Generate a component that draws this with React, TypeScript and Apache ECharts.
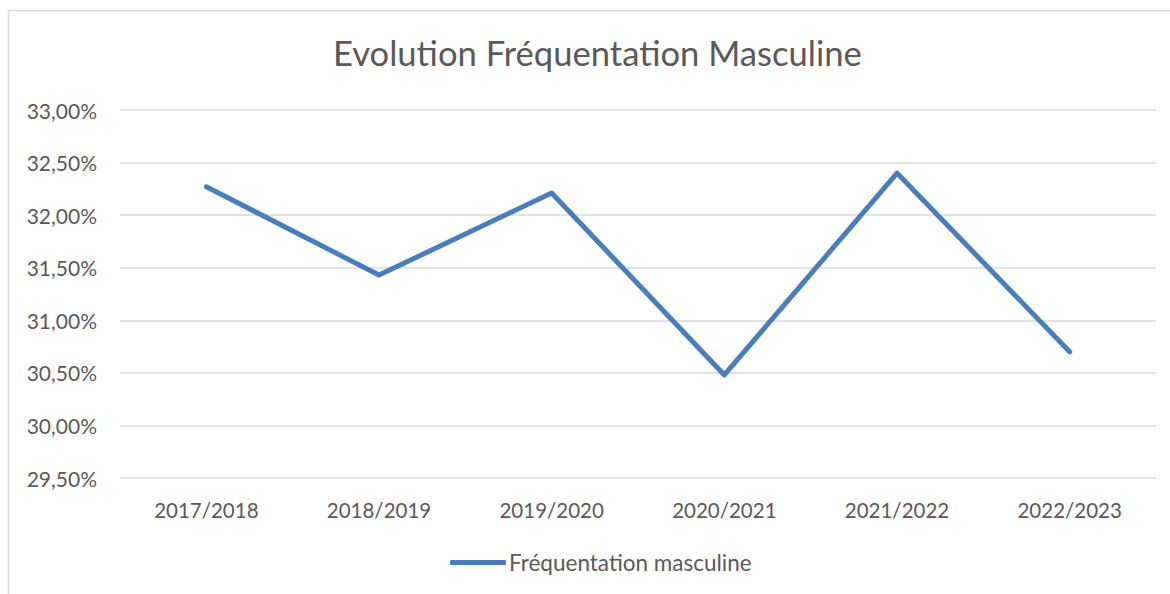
import React, { useEffect, useRef } from "react";
import * as echarts from "echarts";

const categories = ["2017/2018", "2018/2019", "2019/2020", "2020/2021", "2021/2022", "2022/2023"];
const values = [32.27, 31.43, 32.21, 30.48, 32.4, 30.7];
const seriesName = "Fréquentation masculine";
const titleText = "Evolution Fréquentation Masculine";

const FONT = "Lato, 'Open Sans', sans-serif";

export default function App() {
  const ref = useRef<HTMLDivElement>(null);
  useEffect(() => {
    if (!ref.current) return;
    const chart = echarts.init(ref.current, null, { renderer: "svg" });
    chart.setOption({
      animation: false,
      backgroundColor: "#ffffff",
      textStyle: { fontFamily: FONT },
      title: {
        text: titleText,
        left: 328,
        top: 30,
        textStyle: { fontSize: 34.6, fontWeight: "normal", color: "#595959", fontFamily: FONT },
      },
      graphic: [
        {
          type: "rect",
          shape: { x: 8.5, y: 10.5, width: 1200, height: 700 },
          style: { fill: "none", stroke: "#d9d9d9", lineWidth: 1.5 },
          silent: true,
        },
      ],
      grid: { left: 120, right: 14, top: 110, bottom: 116, containLabel: false },
      xAxis: {
        type: "category",
        data: categories,
        boundaryGap: true,
        axisLine: { show: false },
        axisTick: { show: false },
        axisLabel: { fontSize: 20.5, color: "#595959", margin: 21, fontFamily: FONT },
      },
      yAxis: {
        type: "value",
        min: 29.5,
        max: 33,
        interval: 0.5,
        axisLine: { show: false },
        axisTick: { show: false },
        splitLine: { lineStyle: { color: "#d9d9d9", width: 1.5 } },
        axisLabel: {
          fontSize: 21,
          color: "#595959",
          margin: 23,
          fontFamily: FONT,
          formatter: (v: number) => v.toFixed(2).replace(".", ",") + "%",
        },
      },
      legend: {
        data: [{ name: seriesName, icon: "roundRect" }],
        top: 546,
        left: 445,
        itemWidth: 56,
        itemHeight: 5,
        itemGap: 4,
        textStyle: { fontSize: 22.5, color: "#595959", fontFamily: FONT, padding: [0, 0, 0, -2] },
      },
      series: [
        {
          name: seriesName,
          type: "line",
          data: values,
          symbol: "none",
          lineStyle: { color: "#4a7ebb", width: 5, cap: "round", join: "round" },
          itemStyle: { color: "#4a7ebb" },
        },
      ],
    });
    return () => chart.dispose();
  }, []);
  return (
    <div
      ref={ref}
      style={{ position: "fixed", left: 0, top: 0, width: 1170, height: 594 }}
    />
  );
}
